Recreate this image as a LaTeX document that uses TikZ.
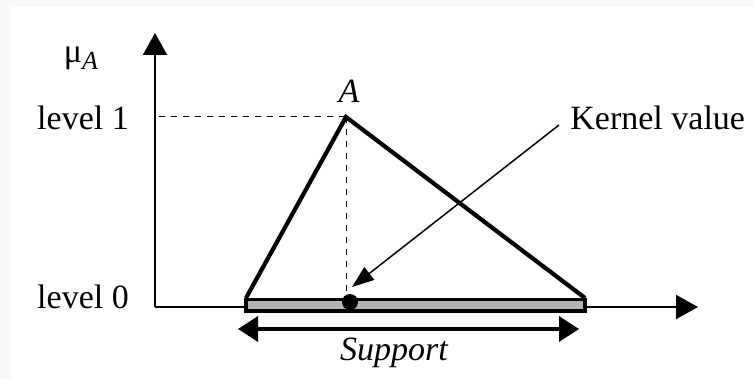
\documentclass[tikz,border=0pt]{standalone}
\usepackage{fontspec}
\setmainfont{Liberation Serif}
\usetikzlibrary{arrows.meta}
\definecolor{pagegray}{HTML}{F6F8FA}
\definecolor{barfill}{HTML}{B4B4B4}
\begin{document}
\begin{tikzpicture}[x=0.5pt,y=-0.5pt,
  lbl/.style={inner sep=0pt,font=\fontsize{17}{20}\selectfont},
  axis/.style={line width=1pt,-{Triangle[length=11pt,width=12pt]}},
  tri/.style={line width=2.1pt,line join=miter},
  guide/.style={line width=0.5pt,dash pattern=on 3pt off 3pt},
  supp/.style={line width=1.6pt,{Triangle[length=10pt,width=12.5pt]}-{Triangle[length=10pt,width=12.5pt]}},
  kern/.style={line width=0.75pt,-{Triangle[length=11pt,width=8pt]}}]
\fill[pagegray] (0,0) rectangle (753,379);
\fill[white] (10,7) rectangle (753,379);
\useasboundingbox (0,0) rectangle (753,379);
% points
\coordinate (O) at (155,307);
\coordinate (ytop) at (155,33);
\coordinate (xend) at (698,307);
\coordinate (L) at (246,298);
\coordinate (P) at (346,117);
\coordinate (R) at (585,298);
\coordinate (y1) at (159,117);
\coordinate (pfoot) at (346,292);
\coordinate (sl) at (238,329);
\coordinate (sr) at (579,329);
\coordinate (kstart) at (559,125);
\coordinate (ktip) at (352,287);
\coordinate (dot) at (350,302);
% labels
\node[lbl] (mu) at (81,58) {μ\raisebox{-0.45ex}{\fontsize{13}{15}\selectfont\itshape A}};
\node[lbl] (lv1) at (83,118) {level 1};
\node[lbl] (lv0) at (83,297) {level 0};
\node[lbl,font=\fontsize{17}{20}\selectfont\itshape] (Alab) at (349,91) {A};
\node[lbl,anchor=west] (kv) at (570,118) {Kernel value};
\node[lbl,font=\fontsize{17}{20}\selectfont\itshape] (sup) at (394,353) {Support};
% axes
\draw[axis] (O) -- (xend);
\draw[axis] (O) -- (ytop);
% guides
\draw[guide] (y1) -- (P);
\draw[guide] (P) -- (pfoot);
% support bar
\draw[line width=1.6pt,fill=barfill] (246,299.5) rectangle (585,311);
% triangle
\draw[tri] (L) -- (P) -- (R);
% kernel dot
\fill (dot) circle[radius=4pt];
% support arrow
\draw[supp] (sl) -- (sr);
% kernel arrow
\draw[kern] (kstart) -- (ktip);
\end{tikzpicture}
\end{document}
